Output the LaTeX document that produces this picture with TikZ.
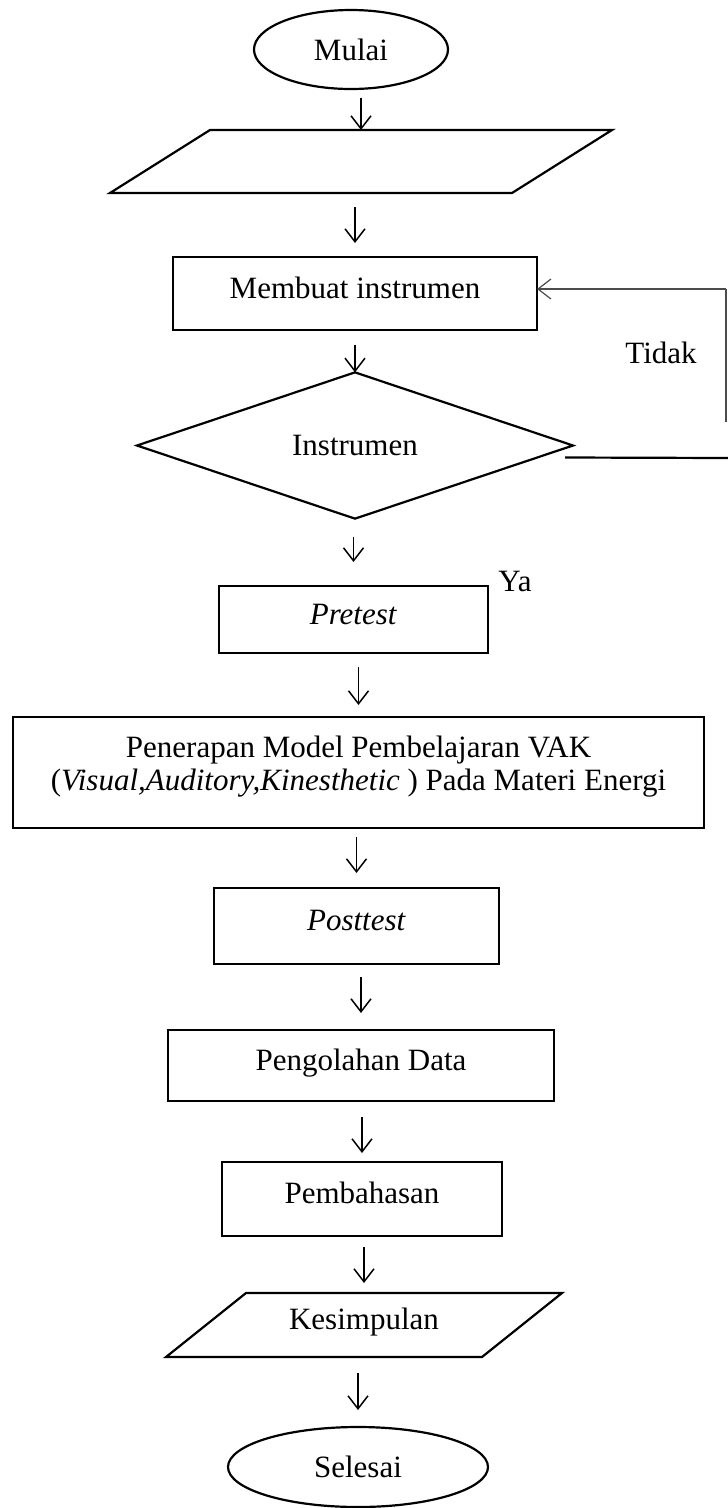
\documentclass[tikz,border=0pt]{standalone}
\usepackage{fontspec}
\setmainfont{Liberation Serif}
\usetikzlibrary{shapes.geometric,arrows.meta}

\tikzset{
	every node/.style={font=\fontsize{31pt}{33pt}\selectfont, inner sep=0pt, outer sep=0pt},
	box/.style={draw, line width=2.2pt, rectangle, text height=21pt, text depth=12pt},
	bigbox/.style={draw, line width=2.2pt, rectangle, align=center},
	term/.style={draw, line width=2.2pt, ellipse},
	io/.style={rectangle, text height=21pt, text depth=12pt},
	garis/.style={line width=2.2pt, line join=miter},
	cek/.style={draw, line width=2.2pt, diamond},
	arr/.style={-{Straight Barb[length=13pt,width=20pt]}, line width=1.5pt},
}

\begin{document}
\begin{tikzpicture}[x=1pt,y=-1pt]
			\useasboundingbox (0,0) rectangle (728,1508);
			
			\node[term, minimum width=194pt, minimum height=79pt] (mulai) at (351,49.5) {Mulai};
			\node[io, minimum width=402pt, minimum height=63pt] (data) at (361,161.5) {};
			\draw[garis] ([xshift=50pt]data.north west) -- ([xshift=50pt]data.north east) -- ([xshift=-50pt]data.south east) -- ([xshift=-50pt]data.south west) -- cycle;
			\node[box, minimum width=364pt, minimum height=73pt] (buat) at (355,293.5) {Membuat instrumen};
			\node[cek, minimum width=436pt, minimum height=124pt] (valid) at (355,445.5) {Instrumen};
			
			\node[box, minimum width=269pt, minimum height=67pt] (pre) at (353.5,619.5) {\textit{Pretest}};
			\node[bigbox, minimum width=691pt, minimum height=111pt] (vak) at (358.5,772.5) {Penerapan Model Pembelajaran VAK\\(\textit{Visual,Auditory,Kinesthetic} ) Pada Materi Energi\rule[-19pt]{0pt}{1pt}};
			\node[box, minimum width=285pt, minimum height=76pt] (post) at (356.5,926) {\textit{Posttest}};
			\node[box, minimum width=386pt, minimum height=71pt] (olah) at (361,1065.5) {Pengolahan Data};
			\node[box, minimum width=280pt, minimum height=74pt] (bahas) at (362,1199) {Pembahasan};
			\node[io, minimum width=316pt, minimum height=64pt] (simpul) at (364,1325) {Kesimpulan};
			\draw[garis] ([xshift=40pt]simpul.north west) -- ([xshift=40pt]simpul.north east) -- ([xshift=-40pt]simpul.south east) -- ([xshift=-40pt]simpul.south west) -- cycle;
			\node[term, minimum width=260pt, minimum height=80pt] (selesai) at (358,1467) {Selesai};
			
			\draw[arr, shorten <=9pt] (mulai.south -| data.north) -- (data.north);
			\draw[arr, shorten <=14pt, shorten >=14pt] (data.south -| buat.north) -- (buat.north);
			\draw[arr, shorten <=15pt] (buat.south -| valid.north) -- (valid.north);
			\draw[arr, shorten <=18pt, shorten >=24pt] (valid.south -| pre.north) -- (pre.north);
			\draw[arr, shorten <=14pt, shorten >=12pt] (pre.south -| vak.north) -- (vak.north);
			\draw[arr, shorten <=9pt, shorten >=15pt] (vak.south -| post.north) -- (post.north);
			\draw[arr, shorten <=13pt, shorten >=17pt] (post.south -| olah.north) -- (olah.north);
			\draw[arr, shorten <=16pt, shorten >=9pt] (olah.south -| bahas.north) -- (bahas.north);
			\draw[arr, shorten <=11pt, shorten >=10pt] (bahas.south -| simpul.north) -- (simpul.north);
			\draw[arr, shorten <=16pt, shorten >=17pt] (simpul.south -| selesai.north) -- (selesai.north);
			
			\coordinate (tepi) at (728,458);
			\coordinate (sudut) at (726,289);
			\draw[line width=2.2pt] ([shift={(-8pt,-12pt)}]valid.east) -- (tepi);
			\draw[line width=1.2pt, black!70] (sudut) -- ++(0,133);
			\draw[arr, line width=1.2pt, black!70] (sudut) -- (sudut -| buat.east);
			
			\node (tidak) at (661,353) {Tidak};
			\node (ya) at (515,581) {Ya};
		\end{tikzpicture}
\end{document}
